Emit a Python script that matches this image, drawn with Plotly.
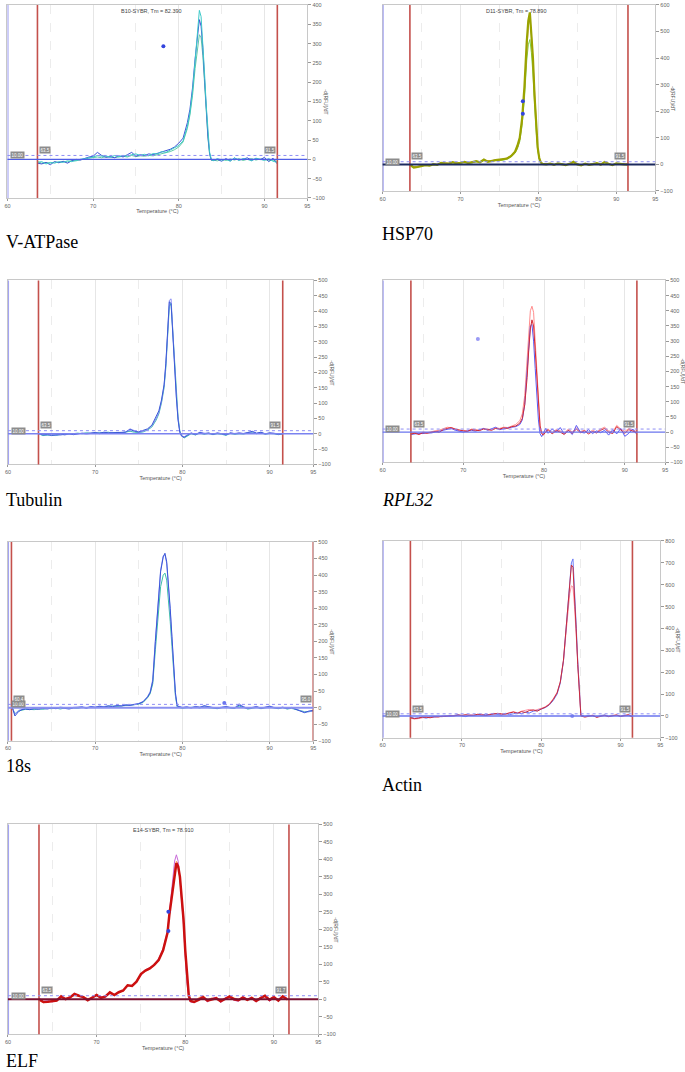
import plotly.graph_objects as go

W, H = 685, 1072

# ---------------- DATA ----------------
# V-ATPase
T_VATP = [63.5, 64, 64.5, 65, 65.5, 66, 66.5, 67, 67.5, 68, 68.5, 69, 69.5, 70, 70.5, 71, 71.5, 72,
          72.5, 73, 73.5, 74, 74.5, 75, 75.5, 76, 76.5, 77, 77.5, 78, 78.5, 79, 79.5, 80, 80.5, 81,
          81.3, 81.6, 81.9, 82.2, 82.4, 82.6, 82.8, 83.0, 83.2, 83.4, 83.6, 83.8,
          84, 84.5, 85, 85.5, 86, 86.5, 87, 87.5, 88, 88.5, 89, 89.5, 90, 90.5, 91, 91.5]
VATP_BLUE = [-10, -12, -8, -14, -6, -9, -5, -10, -4, 0, -2, 3, 6, 8, 18, 10, 5, 7, 4, 9, 6, 12, 18, 8,
             12, 10, 14, 12, 16, 18, 22, 26, 32, 42, 55, 95, 130, 185, 260, 330, 362, 345, 290, 210,
             130, 60, 15, -2, -3, 0, -5, 2, -4, 3, -2, 0, 4, -3, 2, -1, 5, -6, 3, -12]
VATP_TEAL = [-8, -6, -12, -8, -10, -6, -8, -4, -6, -2, 0, 2, 4, 6, 10, 8, 9, 5, 10, 7, 10, 8, 12, 14,
             10, 13, 9, 15, 14, 20, 18, 24, 28, 36, 48, 85, 120, 175, 255, 340, 386, 370, 310, 225,
             140, 65, 18, 0, -4, 2, -2, 0, -5, 4, -3, 2, 0, -4, 3, 0, -3, 2, -5, -8]
VATP_GREEN = [-6, -10, -8, -10, -7, -8, -6, -7, -3, -4, -1, 0, 3, 5, 6, 4, 7, 6, 5, 6, 8, 6, 10, 7,
              9, 8, 10, 9, 12, 14, 16, 20, 25, 32, 45, 80, 115, 165, 235, 295, 323, 315, 270, 200,
              125, 55, 12, -3, -2, -4, 0, -3, 1, -2, 2, -3, 0, 2, -2, 1, 0, -4, -2, -6]
VATP_DOT_T = [78.2]
VATP_DOT_V = [293]

# HSP70
T_HSP = [63.5, 64, 64.5, 65, 65.5, 66, 66.5, 67, 67.5, 68, 68.5, 69, 69.5, 70, 70.5, 71, 71.5, 72,
         72.5, 73, 73.5, 74, 74.5, 75, 75.5, 76, 76.5, 77,
         77.3, 77.6, 77.9, 78.2, 78.5, 78.7, 78.9, 79.1, 79.3, 79.5, 79.7, 79.9, 80.1, 80.3,
         80.5, 81, 81.5, 82, 82.5, 83, 83.5, 84, 84.5, 85, 85.5, 86, 86.5, 87, 87.5, 88, 88.5, 89,
         89.5, 90, 90.5, 91, 91.5]
HSP_OLIVE = ([-2, -12, -10, -6, -3, -5, 0, -2, 6, 4, 3, 8, 4, 6, 9, 5, 8, 12, 8, 18, 10, 14, 16, 18, 20, 22, 32, 48]
             + [70, 100, 170, 290, 460, 540, 572, 500, 400, 260, 150, 65, 25, 8]
             + [2, 0, 3, -2, 4, 0, -3, 2, 10, 0, -4, 3, -2, 1, 5, -1, 9, 2, -3, 4, 1, 0, -1])
HSP_GREEN = ([0, -8, -9, -5, -2, -4, 2, -1, 4, 5, 2, 6, 5, 4, 8, 6, 6, 10, 9, 14, 12, 12, 15, 14, 16, 20, 28, 42]
             + [58, 85, 145, 245, 390, 450, 470, 420, 340, 225, 130, 55, 20, 6]
             + [1, 2, 0, -1, 3, 2, -2, 1, 6, 1, -2, 2, -1, 2, 3, 0, 6, 1, -2, 3, 0, 1, 0])
HSP_ORANGE = ([-4, -10, -7, -5, -2, -3, 1, 0, 5, 6, 4, 7, 6, 7, 10, 6, 9, 12, 10, 16, 14, 14, 17, 15, 20, 24, 30, 45]
              + [62, 92, 160, 275, 440, 520, 555, 490, 390, 260, 150, 62, 22, 6]
              + [0, 1, 2, -1, 2, 1, -2, 3, 5, 2, -3, 2, 0, 1, 4, 1, 7, 3, -2, 2, 2, 0, 1])
HSP_DOT_T = [78.0, 78.0]
HSP_DOT_V = [238, 191]

# Tubulin
T_TUB = [63.5, 64, 64.5, 65, 65.5, 66, 66.5, 67, 67.5, 68, 68.5, 69, 69.5, 70, 70.5, 71, 71.5, 72,
         72.5, 73, 73.5, 74, 74.5, 75, 75.5, 76, 76.5, 77,
         77.3, 77.6, 77.9, 78.1, 78.3, 78.5, 78.7, 78.9, 79.1, 79.3, 79.5, 79.7, 79.9, 80.2,
         80.5, 81, 81.5, 82, 82.5, 83, 83.5, 84, 84.5, 85, 85.5, 86, 86.5, 87, 87.5, 88, 88.5, 89,
         89.5, 90, 90.5, 91, 91.5]
TUB_BLUE = ([2, -4, -2, -6, -3, -4, -2, 0, -3, -1, 2, 1, 3, 4, 2, 5, 3, 4, 3, 6, 5, 14, 8, 6, 12, 16, 28, 55]
            + [75, 110, 160, 230, 330, 430, 425, 320, 210, 120, 45, 5, -8, -12]
            + [-6, 2, -3, 4, 0, 3, -2, 2, 0, -4, 3, 0, 2, 1, 4, 8, 2, 5, 0, 3, 1, -2, 0])
TUB_TEAL = ([0, -6, -5, -4, -6, -2, -3, -1, 0, 2, 0, 3, 1, 2, 4, 3, 5, 2, 4, 3, 6, 8, 5, 4, 6, 12, 22, 45]
            + [65, 100, 150, 215, 315, 415, 425, 335, 225, 130, 55, 10, -5, -14]
            + [-8, 0, -4, 2, -2, 1, -3, 0, -2, -5, 1, -2, 0, -1, 2, 4, 0, 3, -2, 1, 0, -3, -1])
TUB_VIOLET = ([-2, -3, -4, -2, -5, -1, -4, -1, -2, 0, 1, -1, 2, 3, 0, 4, 2, 3, 1, 4, 6, 16, 10, 4, 8, 14, 26, 50]
              + [70, 105, 158, 225, 325, 435, 440, 330, 215, 125, 48, 6, -6, -10]
              + [-5, 3, -2, 5, 2, 1, -1, 3, 1, -3, 2, 1, 3, 0, 3, 6, 1, 4, -1, 2, 2, -1, 1])

# RPL32
T_RPL = [63.5, 64, 64.5, 65, 65.5, 66, 66.5, 67, 67.5, 68, 68.5, 69, 69.5, 70, 70.5, 71, 71.5, 72,
         72.5, 73, 73.5, 74, 74.5, 75, 75.5, 76, 76.5, 77,
         77.3, 77.6, 77.9, 78.1, 78.3, 78.5, 78.7, 78.9, 79.1, 79.3, 79.5, 79.7, 79.9, 80.2,
         80.5, 81, 81.5, 82, 82.5, 83, 83.5, 84, 84.5, 85, 85.5, 86, 86.5, 87, 87.5, 88, 88.5, 89,
         89.5, 90, 90.5, 91, 91.5]
RPL_RED = ([-6, -4, -8, -2, -4, 0, 2, -1, 8, 12, 15, 10, 6, 4, 2, 8, 6, 5, 10, 8, 6, 12, 10, 14, 12, 18, 20, 30]
           + [45, 90, 180, 270, 340, 370, 350, 270, 180, 80, 20, -5, -10, 0]
           + [8, -6, 5, 0, -8, 6, -4, 10, -2, 4, -6, 2, -3, 6, 12, 0, -5, 18, 6, -4, 8, 2, -2])
RPL_PINK = ([-4, -2, -6, 0, -2, 2, 4, 6, 12, 16, 14, 8, 4, 6, 4, 10, 8, 6, 12, 10, 8, 14, 12, 16, 15, 20, 25, 38]
            + [60, 120, 230, 330, 400, 415, 395, 300, 190, 85, 22, -2, -6, 4]
            + [10, -2, 8, 4, -4, 10, 0, 14, 2, 6, -2, 6, 0, 10, 16, 4, 0, 22, 10, 2, 12, 6, 2])
RPL_BLUE = ([-8, -6, -4, -5, -2, -3, 0, 2, 6, 10, 12, 6, 2, 0, 4, 6, 3, 8, 12, 6, 10, 16, 8, 12, 14, 16, 18, 25]
            + [40, 90, 200, 290, 350, 355, 300, 210, 120, 40, -5, -15, -5, 12]
            + [-4, 10, 0, 15, -6, 5, -8, 22, 0, -3, 8, -5, 4, -2, 6, -10, 8, -6, 12, -14, -4, 10, -8])
RPL_DOT_T = [71.8]
RPL_DOT_V = [307]

# 18s
T_18S = ([60.5, 60.8, 61.2, 61.6, 62]
         + [62.5, 63, 63.5, 64, 64.5, 65, 65.5, 66, 66.5, 67, 67.5, 68, 68.5, 69, 69.5, 70, 70.5, 71,
            71.5, 72, 72.5, 73, 73.5, 74, 74.5, 75]
         + [75.5, 76, 76.3, 76.6, 76.9, 77.2, 77.5, 77.8, 78.0, 78.2, 78.4, 78.6, 78.8, 79.0, 79.2, 79.4]
         + [80, 80.5, 81, 81.5, 82, 82.5, 83, 83.5, 84, 84.5, 85, 85.5, 86, 86.5, 87, 87.5, 88, 88.5,
            89, 89.5, 90, 90.5, 91, 91.5, 92, 92.5, 93, 93.5, 94, 94.5, 95])
S18_BLUE = ([0, -25, -12, -6, -4]
            + [-6, -3, -5, -2, -4, -1, -3, 0, -2, -4, -1, 0, 2, -2, 3, 1, 4, 2, 5, 3, 6, 5, 8, 7, 10, 12]
            + [18, 32, 45, 80, 200, 320, 410, 455, 466, 440, 380, 300, 215, 120, 45, 5]
            + [0, 2, -1, 3, 1, 6, 2, 0, -2, 1, 3, 0, -1, 8, 2, -3, 0, 3, -2, 1, 4, 0, -2, 1, -3, 0, -5,
               -12, -15, -10, -8])
S18_TEAL = ([0, -18, -10, -8, -5]
            + [-5, -6, -3, -5, -2, -3, -1, -4, -1, -2, 0, -2, 1, 0, 2, 0, 3, 4, 3, 5, 4, 6, 6, 8, 9, 11]
            + [16, 30, 42, 72, 175, 285, 365, 400, 406, 385, 330, 260, 185, 100, 35, 2]
            + [-2, 0, 1, 2, -1, 4, 0, -2, -3, 0, 2, -1, -2, 5, 0, -4, -2, 1, -3, 0, 2, -1, -3, 0, -4, -2,
               -6, -10, -12, -12, -10])
S18_LAV = ([0, -20, -8, -4, -2]
           + [-4, -2, -3, 0, -2, 1, -2, 2, 0, -2, 1, 2, 3, 0, 4, 2, 5, 3, 6, 4, 7, 6, 9, 8, 11, 13]
           + [19, 34, 48, 85, 205, 325, 415, 458, 462, 435, 372, 292, 208, 112, 40, 6]
           + [1, 3, 0, 4, 2, 5, 3, 1, -1, 2, 4, 1, 0, 12, 3, -2, 1, 4, -1, 2, 5, 1, -1, 2, -2, 1, -4,
              -10, -14, -12, -10])
S18_DOT_T = [84.8]
S18_DOT_V = [14]

# Actin
T_ACT = ([63.5, 64, 64.5, 65, 65.5, 66, 66.5, 67, 67.5, 68, 68.5, 69, 69.5, 70, 70.5, 71, 71.5, 72,
          72.5, 73, 73.5, 74, 74.5, 75, 75.5, 76, 76.5, 77, 77.5, 78, 78.5, 79, 79.5, 80, 80.5, 81]
         + [81.5, 82, 82.4, 82.8, 83.1, 83.4, 83.6, 83.8, 84, 84.2, 84.4, 84.6, 84.8, 85]
         + [85.5, 86, 86.5, 87, 87.5, 88, 88.5, 89, 89.5, 90, 90.5, 91, 91.5])
ACT_BLUE = ([-5, -10, -8, -6, -10, -4, -5, -2, -3, 0, -2, 2, 6, 0, -3, 4, 2, 6, 3, 8, 5, 10, 8, 4, 12,
             6, 10, 15, 10, 18, 14, 22, 25, 30, 38, 50]
            + [70, 100, 150, 250, 380, 520, 623, 700, 718, 590, 420, 250, 100, 5]
            + [-2, 3, 0, -4, 2, 5, -1, 0, 3, -2, 4, 2, -3])
ACT_RED = ([-8, -12, -10, -5, -6, -8, -3, -5, -1, -2, 2, 0, 4, 3, 6, 2, 4, 8, 5, 2, 6, 8, 12, 10, 8,
            14, 18, 12, 20, 16, 25, 28, 22, 32, 40, 52]
           + [75, 105, 155, 255, 385, 530, 640, 690, 680, 560, 400, 235, 90, 0]
           + [-5, 0, 2, -6, 0, 3, -3, 1, 5, -2, 2, 6, -4])
ACT_PINK = ([-10, -14, -12, -8, -5, -7, -4, -2, -3, 1, 0, 3, 5, 2, 4, 6, 3, 5, 8, 4, 8, 12, 10, 6, 10,
             16, 20, 14, 22, 26, 30, 24, 28, 35, 42, 55]
            + [78, 108, 155, 250, 370, 490, 560, 595, 590, 500, 370, 220, 85, 2]
            + [-3, 2, 4, -5, 1, 2, -2, 3, 4, 0, 0, 5, -2])
ACT_DOT_T = [83.9]
ACT_DOT_V = [0]

# ELF
T_ELF = ([63.5, 64, 64.5, 65, 65.5, 66, 66.5, 67, 67.5, 68, 68.5, 69, 69.5, 70, 70.5, 71, 71.5, 72,
          72.5, 73, 73.5, 74, 74.5, 75, 75.5, 76, 76.5, 77, 77.5, 78]
         + [78.2, 78.4, 78.6, 78.8, 79, 79.2, 79.4, 79.6, 79.8, 80, 80.2, 80.4, 80.6]
         + [81, 81.5, 82, 82.5, 83, 83.5, 84, 84.5, 85, 85.5, 86, 86.5, 87, 87.5, 88, 88.5, 89, 89.5,
            90, 90.5, 91, 91.5])
ELF_RED = ([0, -8, -7, -6, -4, 8, 0, 5, 15, 10, 6, -3, 5, 12, 4, 8, 20, 12, 20, 25, 40, 38, 50, 72,
            82, 88, 98, 112, 140, 190]
           + [240, 280, 320, 365, 389, 380, 350, 290, 230, 140, 60, 10, -5]
           + [-8, -2, 6, -4, 0, 3, -6, 2, 8, 0, -3, 5, -2, 4, -5, 3, 10, -2, 6, -4, 8, 0])
ELF_VIOLET = ([2, -6, -4, -8, -3, 6, 2, 4, 12, 12, 4, -2, 6, 10, 8, 6, 16, 14, 22, 24, 38, 40, 52, 68,
               84, 90, 100, 116, 145, 195]
              + [250, 300, 350, 395, 413, 395, 340, 280, 215, 120, 45, 5, -8]
              + [-10, 0, 8, -8, 2, 6, -10, 4, 6, -3, -6, 8, 0, 2, -8, 6, 8, -6, 4, -2, 6, 2])
ELF_ORANGE = ([-4, -10, -8, -4, -5, 4, 3, 6, 10, 8, 8, 2, 4, 14, 6, 10, 16, 10, 22, 22, 42, 36, 48, 70,
               80, 86, 96, 110, 138, 188]
              + [245, 285, 330, 375, 395, 385, 345, 285, 225, 130, 50, 8, -6]
              + [-6, 4, 10, -2, 4, 1, -4, 0, 10, 4, -1, 6, -4, 6, -2, 5, 12, 0, 8, -2, 6, -3])
ELF_DOT_T = [78.1, 78.1]
ELF_DOT_V = [250, 195]

X_TICKS = [60, 70, 80, 90, 95]
X_MINOR = [65, 75, 85]
THRESH = 10

# ---------------- FIGURE ----------------
fig = go.Figure()

panels = [
    dict(label="V-ATPase", italic=False, box=(4.5, 307, 2, 196), yr=[-100, 400], dt=50,
         T=T_VATP, series=[(VATP_GREEN, "#5fcaa6", 1), (VATP_BLUE, "#3f52d8", 1), (VATP_TEAL, "#3cc8c8", 1)],
         dots=(VATP_DOT_T, VATP_DOT_V, "#3344dd"), bounds=[63.5, 91.5], zero="#4f5de6", zw=1.3,
         title="B10-SYBR, Tm = 82.390", title_x=150, lab=(1, 240)),
    dict(label="HSP70", italic=False, box=(383, 658, 2, 189), yr=[-100, 600], dt=100,
         T=T_HSP, series=[(HSP_GREEN, "#7fcf44", 1), (HSP_ORANGE, "#d38a3e", 1), (HSP_OLIVE, "#9aa300", 2.2)],
         dots=(HSP_DOT_T, HSP_DOT_V, "#3344dd"), bounds=[63.5, 91.5], zero="#1c2a5e", zw=2,
         title="D11-SYBR, Tm = 78.890", title_x=518, lab=(380, 232)),
    dict(label="Tubulin", italic=False, box=(5, 313, 279, 464), yr=[-100, 500], dt=50,
         T=T_TUB, series=[(TUB_TEAL, "#3cbfae", 1), (TUB_VIOLET, "#8a8cf5", 1), (TUB_BLUE, "#3d5bd6", 1)],
         dots=None, bounds=[63.5, 91.5], zero="#7a82f0", zw=1.6, title=None, title_x=0, lab=(1, 500)),
    dict(label="RPL32", italic=True, box=(383, 668, 279, 462), yr=[-100, 500], dt=50,
         T=T_RPL, series=[(RPL_PINK, "#ff8c8c", 1), (RPL_BLUE, "#5a5af5", 1), (RPL_RED, "#d42a35", 1)],
         dots=(RPL_DOT_T, RPL_DOT_V, "#9a9af5"), bounds=[63.5, 91.5], zero="#6a75ee", zw=1.3,
         title=None, title_x=0, lab=(380, 500)),
    dict(label="18s", italic=False, box=(5, 313, 542, 742), yr=[-100, 500], dt=50,
         T=T_18S, series=[(S18_TEAL, "#3cbfa8", 1), (S18_LAV, "#8a96f5", 1), (S18_BLUE, "#3a55d6", 1)],
         dots=(S18_DOT_T, S18_DOT_V, "#6a75ee"), bounds=[60.4, 95], zero="#8a90f0", zw=2,
         title=None, title_x=0, lab=(1, 767)),
    dict(label="Actin", italic=False, box=(383, 663, 541, 739), yr=[-100, 800], dt=100,
         T=T_ACT, series=[(ACT_PINK, "#ff8fa0", 1), (ACT_BLUE, "#6a7af5", 1), (ACT_RED, "#cc2a3a", 1)],
         dots=(ACT_DOT_T, ACT_DOT_V, "#8a90f0"), bounds=[63.5, 91.5], zero="#6a75ee", zw=1.3,
         title=None, title_x=0, lab=(380, 786)),
    dict(label="ELF", italic=False, box=(5, 318, 826, 1037), yr=[-100, 500], dt=50,
         T=T_ELF, series=[(ELF_ORANGE, "#ff9a66", 1), (ELF_VIOLET, "#c86ad8", 1), (ELF_RED, "#cc1010", 2.5)],
         dots=(ELF_DOT_T, ELF_DOT_V, "#3344dd"), bounds=[63.5, 91.7], zero="#7a1030", zw=2,
         title="E14-SYBR, Tm = 78.910", title_x=162, lab=(1, 1064)),
]

shapes = []
annotations = []
TICKFONT = dict(family="Liberation Sans", size=5.5, color="#666666")

for i, p in enumerate(panels, start=1):
    sfx = "" if i == 1 else str(i)
    xa, ya = "x" + sfx, "y" + sfx
    x0, x1, y0, y1 = p["box"]
    fig.update_layout(**{
        "xaxis" + sfx: dict(
            domain=[x0 / W, x1 / W], range=[60, 95], anchor=ya, tickvals=X_TICKS,
            showgrid=True, gridcolor="#e6e6e6", gridwidth=1,
            minor=dict(tickvals=X_MINOR, showgrid=True, griddash="dash", gridcolor="#ececec", gridwidth=1),
            showline=True, linecolor="#c8c8c8", linewidth=1, mirror=True,
            ticks="outside", ticklen=2, tickcolor="#999999", tickfont=TICKFONT,
            zeroline=False,
            title=dict(text="Temperature (°C)", font=dict(family="Liberation Sans", size=5.5, color="#555555"),
                       standoff=1)),
        "yaxis" + sfx: dict(
            domain=[1 - y1 / H, 1 - y0 / H], range=p["yr"], anchor=xa, side="right", dtick=p["dt"],
            showgrid=False, zeroline=False, showline=True, linecolor="#c8c8c8", linewidth=1, mirror=True,
            ticks="outside", ticklen=3, tickcolor="#999999", tickfont=TICKFONT),
    })
    # analysis window bounds, baseline, threshold
    shapes.append(dict(type="line", xref=xa, yref=ya + " domain", x0=60, x1=60, y0=0, y1=1,
                       line=dict(color="#a4a4f2", width=2.2)))
    for b in p["bounds"]:
        shapes.append(dict(type="line", xref=xa, yref=ya + " domain", x0=b, x1=b, y0=0, y1=1,
                           line=dict(color="#c4504c", width=1.6)))
    shapes.append(dict(type="line", xref=xa + " domain", yref=ya, x0=0, x1=1, y0=THRESH, y1=THRESH,
                       line=dict(color="#8f8ff5", width=1, dash="dot")))
    shapes.append(dict(type="line", xref=xa + " domain", yref=ya, x0=0, x1=1, y0=0, y1=0,
                       line=dict(color=p["zero"], width=p["zw"])))
    # curves
    for ys, col, w in p["series"]:
        fig.add_trace(go.Scatter(x=p["T"], y=ys, mode="lines", line=dict(color=col, width=w),
                                 xaxis=xa, yaxis=ya, showlegend=False, hoverinfo="skip"))
    if p["dots"]:
        dt_, dv_, dc = p["dots"]
        fig.add_trace(go.Scatter(x=dt_, y=dv_, mode="markers", marker=dict(color=dc, size=4),
                                 xaxis=xa, yaxis=ya, showlegend=False, hoverinfo="skip"))
    # grey value boxes
    lb, rb = p["bounds"]
    box_style = dict(font=dict(family="Liberation Sans", size=4.5, color="white"), bgcolor="#8c8c8c",
                     borderpad=0.5, showarrow=False, xref=xa, yref=ya)
    annotations.append(dict(text="10.00", x=60.3, y=THRESH, xanchor="left", yanchor="middle", **box_style))
    annotations.append(dict(text=f"{lb:.1f}", x=lb + 0.2, y=THRESH + 5, xanchor="left", yanchor="bottom", **box_style))
    annotations.append(dict(text=f"{rb:.1f}", x=rb - 0.2, y=THRESH + 5, xanchor="right", yanchor="bottom", **box_style))
    # rotated y-axis title
    annotations.append(dict(text="-d(RFU)/dT", xref="paper", yref="paper", x=(x1 + 18) / W,
                            y=1 - (y0 + y1) / 2 / H, textangle=90, showarrow=False,
                            xanchor="center", yanchor="middle",
                            font=dict(family="Liberation Sans", size=5, color="#555555")))
    if p["title"]:
        annotations.append(dict(text=p["title"], xref="paper", yref="paper", x=p["title_x"] / W,
                                y=1 - (y0 + 1) / H, xanchor="center", yanchor="top", showarrow=False,
                                font=dict(family="Liberation Sans", size=5.5, color="#444444")))
    lx, ly = p["lab"]
    txt = f"<i>{p['label']}</i>" if p["italic"] else p["label"]
    annotations.append(dict(text=txt, xref="paper", yref="paper", x=lx / W, y=1 - ly / H,
                            xanchor="left", yanchor="middle", showarrow=False,
                            font=dict(family="Liberation Serif", size=18, color="black")))

fig.update_layout(width=W, height=H, margin=dict(l=0, r=0, t=0, b=0),
                  paper_bgcolor="white", plot_bgcolor="white",
                  shapes=shapes, annotations=annotations)

fig.write_html("out.html", config={"displayModeBar": False},
               post_script="document.body.style.margin='0';")
